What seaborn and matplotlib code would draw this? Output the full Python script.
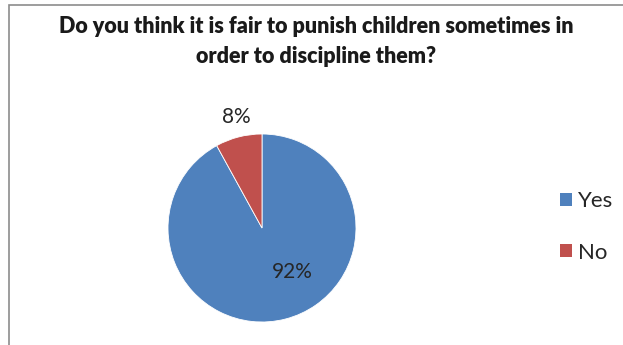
import matplotlib
matplotlib.use("Agg")
import matplotlib.pyplot as plt
import seaborn as sns
from matplotlib.patches import Rectangle, Patch

sns.set_theme(style="white")
plt.rcParams['font.family'] = ['Lato', 'DejaVu Sans']

# Survey answers
answers = ["Yes", "No"]
shares = [92, 8]
colors = ["#4F81BD", "#C0504D"]
title = "Do you think it is fair to punish children sometimes in\norder to discipline them?"

W, H = 623, 345
fig = plt.figure(figsize=(W / 100, H / 100), dpi=100)
fig.patch.set_facecolor("white")

# Chart frame
fig.add_artist(Rectangle((9 / W, -0.05), 1.2, (H - 5) / H + 0.05,
                         transform=fig.transFigure, fill=False,
                         edgecolor="#8c8c8c", linewidth=1.2))

# Pie axes: centre ~ (262, 228) px, radius ~ 94 px
r = 94
cx, cy = 262, 228
ax = fig.add_axes([(cx - r) / W, (H - cy - r) / H, 2 * r / W, 2 * r / H])
wedges, texts, autotexts = ax.pie(
    shares, colors=colors, startangle=90, counterclock=False,
    autopct=lambda p: f"{p:.0f}%", pctdistance=0.6,
    wedgeprops=dict(linewidth=0.6, edgecolor="white"),
    textprops=dict(fontsize=15, color="#262626"))
ax.set_xlim(-1, 1)
ax.set_ylim(-1, 1)
ax.set_aspect("equal")
# Place the percentage labels
autotexts[0].set_position((0.32, -0.47))
autotexts[1].set_position((-0.27, 1.18))

fig.text(0.508, 0.88, title, ha="center", va="center", fontsize=15.5,
         fontweight="heavy", color="#1a1a1a", linespacing=1.55)

handles = [Patch(facecolor=c, edgecolor="none") for c in colors]
leg = fig.legend(handles, answers, loc="center left",
                 bbox_to_anchor=(560 / W, (H - 227) / H), frameon=False,
                 borderpad=0, borderaxespad=0,
                 fontsize=16, handlelength=0.55, handleheight=0.55,
                 handletextpad=0.25, labelspacing=1.4)
for t in leg.get_texts():
    t.set_color("#262626")

fig.savefig("out.png", dpi=100)
